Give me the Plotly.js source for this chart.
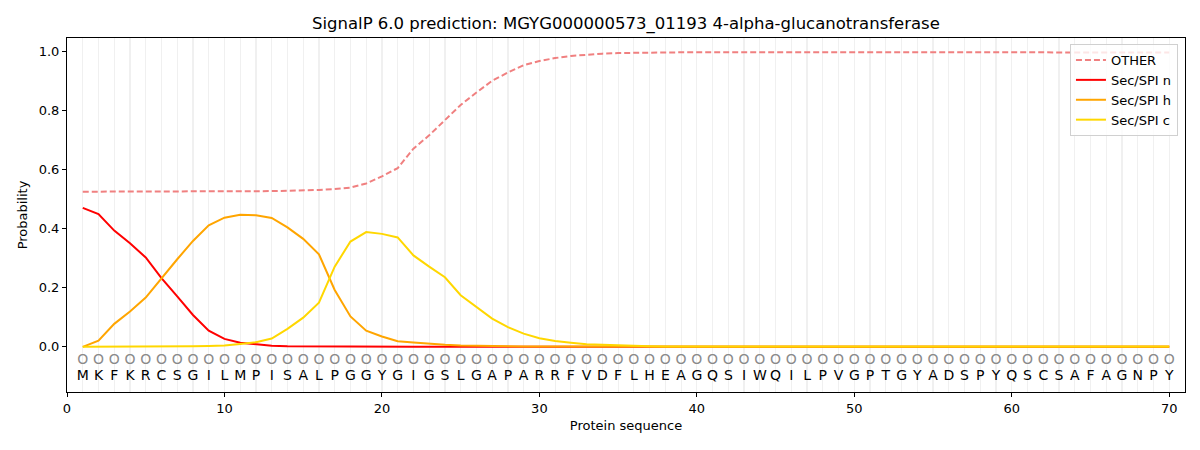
<!DOCTYPE html>
<html>
<head>
<meta charset="utf-8">
<script src="https://cdn.plot.ly/plotly-3.0.1.min.js"></script>
<style>
  body { margin: 0; background: #fff; }
  #chart { width: 1200px; height: 450px; }
</style>
</head>
<body>
<div id="chart"></div>
<script>
// residues of the sequence, one per position
const residues = 'MKFKRCSGILMPISALPGGYGIGSLGAPARRFVDFLHEAGQSIWQILPVGPTGYADSPYQSCSAFAGNPY'.split('');
const positions = residues.map((r, i) => i + 1);
const regionLabels = residues.map(() => 'O');

const otherProb = [
    0.526, 0.526, 0.526, 0.526, 0.526, 0.526, 0.526, 0.527, 0.527, 0.527,
    0.527, 0.528, 0.528, 0.529, 0.530, 0.532, 0.535, 0.540, 0.554, 0.578,
    0.606, 0.672, 0.717, 0.768, 0.820, 0.862, 0.902, 0.930, 0.955, 0.969,
    0.979, 0.986, 0.991, 0.994, 0.996, 0.997, 0.998, 0.998, 0.999, 0.999,
    0.999, 0.999, 0.999, 0.999, 0.999, 0.999, 0.999, 0.999, 0.999, 0.999,
    0.999, 0.999, 0.999, 0.999, 0.999, 0.999, 0.999, 0.999, 0.999, 0.999,
    0.999, 0.998, 0.998, 0.998, 0.998, 0.998, 0.998, 0.998, 0.998, 0.998
];
const secN = [
    0.471, 0.450, 0.394, 0.351, 0.303, 0.233, 0.171, 0.108, 0.055, 0.027,
    0.014, 0.008, 0.004, 0.002, 0.0015, 0.001, 0.001, 0.0008, 0.0006, 0.0005,
    0.0005, 0.0004, 0.0003, 0.0003, 0.0002, 0.0002, 0.0001, 0.0001, 0.0001, 0.0001,
    0, 0, 0, 0, 0, 0, 0, 0, 0, 0,
    0, 0, 0, 0, 0, 0, 0, 0, 0, 0,
    0, 0, 0, 0, 0, 0, 0, 0, 0, 0,
    0, 0, 0, 0, 0, 0, 0, 0, 0, 0
];
const secH = [
    0.000, 0.021, 0.078, 0.120, 0.167, 0.233, 0.297, 0.359, 0.412, 0.438,
    0.448, 0.446, 0.437, 0.405, 0.366, 0.314, 0.193, 0.103, 0.055, 0.035,
    0.019, 0.015, 0.010, 0.007, 0.0045, 0.003, 0.002, 0.0015, 0.001, 0.001,
    0.0008, 0.0006, 0.0005, 0.0004, 0.0003, 0.0003, 0.0002, 0.0002, 0.0002, 0.0001,
    0.0001, 0.0001, 0.0001, 0.0001, 0.0001, 0.0001, 0.0001, 0.0001, 0.0001, 0.0001,
    0.0001, 0.0001, 0.0001, 0.0001, 0.0001, 0.0001, 0.0001, 0.0001, 0.0001, 0.0001,
    0.0001, 0.0001, 0.0001, 0.0001, 0.0001, 0.0001, 0.0001, 0.0001, 0.0001, 0.0001
];
const secC = [
    0.000, 0.000, 0.001, 0.001, 0.001, 0.002, 0.002, 0.002, 0.003, 0.005,
    0.010, 0.016, 0.028, 0.061, 0.099, 0.150, 0.272, 0.357, 0.389, 0.383,
    0.371, 0.310, 0.272, 0.236, 0.175, 0.137, 0.096, 0.067, 0.045, 0.029,
    0.020, 0.014, 0.009, 0.007, 0.0045, 0.003, 0.002, 0.0015, 0.001, 0.001,
    0.001, 0.001, 0.001, 0.001, 0.001, 0.001, 0.001, 0.001, 0.001, 0.001,
    0.001, 0.001, 0.001, 0.001, 0.001, 0.001, 0.001, 0.001, 0.001, 0.001,
    0.001, 0.001, 0.001, 0.001, 0.001, 0.001, 0.001, 0.001, 0.001, 0.001
];

const font = 'DejaVu Sans, sans-serif';

const traces = [
    { x: positions, y: otherProb, name: 'OTHER', mode: 'lines',
      line: { color: '#F08080', width: 2, dash: '6px,3px' } },
    { x: positions, y: secN, name: 'Sec/SPI n', mode: 'lines',
      line: { color: '#FF0000', width: 2 } },
    { x: positions, y: secH, name: 'Sec/SPI h', mode: 'lines',
      line: { color: '#FFA500', width: 2 } },
    { x: positions, y: secC, name: 'Sec/SPI c', mode: 'lines',
      line: { color: '#FFD700', width: 2 } },
    { x: positions, y: positions.map(() => -0.045), text: regionLabels, mode: 'text',
      textfont: { family: font, size: 14, color: '#8a8a8a' }, showlegend: false, hoverinfo: 'skip' },
    { x: positions, y: positions.map(() => -0.1), text: residues, mode: 'text',
      textfont: { family: font, size: 14, color: '#000' }, showlegend: false, hoverinfo: 'skip' }
];

const layout = {
    width: 1200,
    height: 450,
    margin: { l: 67, r: 15, t: 38, b: 58 },
    paper_bgcolor: '#fff',
    plot_bgcolor: '#fff',
    font: { family: font, size: 13, color: '#000' },
    title: {
        text: 'SignalP 6.0 prediction: MGYG000000573_01193 4-alpha-glucanotransferase',
        font: { family: font, size: 16.5 },
        x: 0.5216, xanchor: 'center', y: 0.948, yanchor: 'middle'
    },
    xaxis: {
        range: [0, 71],
        tick0: 0, dtick: 10,
        ticks: 'outside', ticklen: 4, tickcolor: '#000',
        showgrid: true, gridcolor: '#f0f0f0', gridwidth: 1.2,
        minor: { dtick: 1, tick0: 0, showgrid: true, gridcolor: '#f0f0f0', gridwidth: 1.2, ticks: '' },
        zeroline: false,
        showline: true, mirror: true, linecolor: '#000', linewidth: 1,
        title: { text: 'Protein sequence', font: { family: font, size: 13 }, standoff: 6 }
    },
    yaxis: {
        range: [-0.153, 1.047],
        tickvals: [0, 0.2, 0.4, 0.6, 0.8, 1.0],
        tickformat: '.1f',
        ticks: 'outside', ticklen: 4, tickcolor: '#000',
        showgrid: false, zeroline: false,
        showline: true, mirror: true, linecolor: '#000', linewidth: 1,
        title: { text: 'Probability', font: { family: font, size: 13 }, standoff: 8 }
    },
    legend: {
        x: 0.9937, xanchor: 'right', y: 0.983, yanchor: 'top',
        bgcolor: 'rgba(255,255,255,0.8)', bordercolor: '#d0d0d0', borderwidth: 1,
        font: { family: font, size: 13 },
        tracegroupgap: 2
    },
    showlegend: true
};

Plotly.newPlot('chart', traces, layout, { displayModeBar: false, staticPlot: true });
</script>
</body>
</html>
